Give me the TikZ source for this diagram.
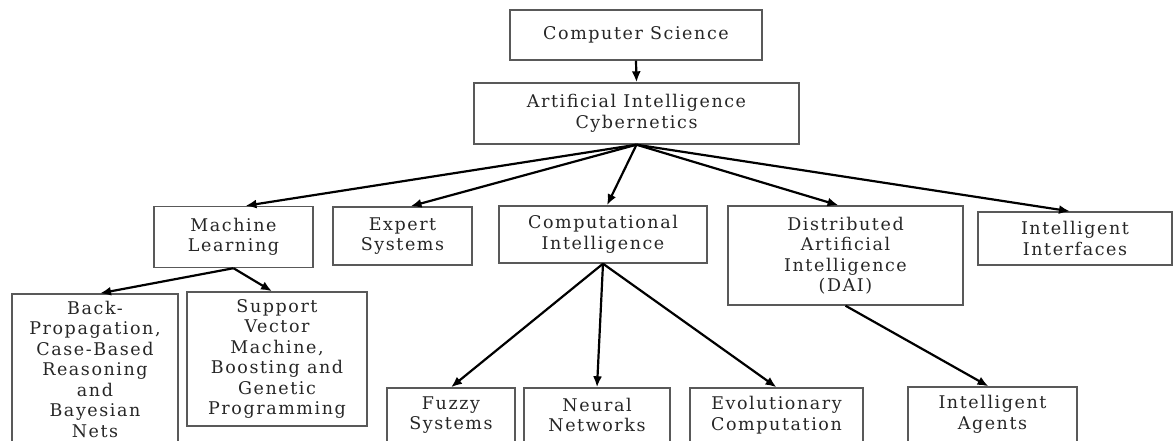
\documentclass[tikz,border=0pt]{standalone}
\usepackage{fontspec}
\setmainfont{DejaVu Serif}[LetterSpace=9]
\usetikzlibrary{arrows.meta}
\tikzset{
  box/.style={draw=black!65, line width=1.4pt, align=center, inner sep=0pt,
    font=\fontsize{17.5}{20.5}\selectfont, text=black!85},
  arr/.style={line width=2.2pt, -{Latex[length=11pt,width=9pt]}}
}
\begin{document}
\begin{tikzpicture}[x=1pt,y=-1pt]
\useasboundingbox (0,0) rectangle (1173,440);
\clip (0,0) rectangle (1173,440);
\node[box, minimum width=252pt, minimum height=50pt] (cs) at (636,35) {Computer Science};
\node[box, minimum width=325pt, minimum height=61pt] (ai) at (636.5,113.5) {Artificial Intelligence\\Cybernetics};
\node[box, minimum width=159pt, minimum height=61pt] (ml) at (233.5,237) {Machine\\Learning};
\node[box, minimum width=139pt, minimum height=58pt] (es) at (402.5,236) {Expert\\Systems};
\node[box, minimum width=208pt, minimum height=57pt] (ci) at (603,234.5) {Computational\\Intelligence};
\node[box, minimum width=235pt, minimum height=99pt] (dai) at (845.5,255.5) {Distributed\\Artificial\\Intelligence\\(DAI)};
\node[box, minimum width=194pt, minimum height=53pt] (ii) at (1075,238.5) {Intelligent\\Interfaces};
\node[box, minimum width=166pt, minimum height=150pt] (bp) at (95,369) {Back-\\Propagation,\\Case-Based\\Reasoning\\and\\Bayesian\\Nets};
\node[box, minimum width=180pt, minimum height=134pt] (svm) at (277,359) {Support\\Vector\\Machine,\\Boosting and\\Genetic\\Programming};
\node[box, minimum width=128pt, minimum height=54pt] (fs) at (451,415) {Fuzzy\\Systems};
\node[box, minimum width=146pt, minimum height=54pt] (nn) at (597,415) {Neural\\Networks};
\node[box, minimum width=173pt, minimum height=54pt] (ec) at (776.5,415) {Evolutionary\\Computation};
\node[box, minimum width=169pt, minimum height=55pt] (ia) at (992.5,414.5) {Intelligent\\Agents};
\draw[arr] (cs.south) -- (ai.north);
\draw[arr] (ai.south) -- ([xshift=12pt]ml.north);
\draw[arr] (ai.south) -- ([xshift=8pt]es.north);
\draw[arr] (ai.south) -- ([xshift=4pt]ci.north);
\draw[arr] (ai.south) -- ([xshift=-7pt]dai.north);
\draw[arr] (ai.south) -- ([xshift=-5pt]ii.north);
\draw[arr] (ml.south) -- ([xshift=5pt]bp.north);
\draw[arr] (ml.south) -- ([xshift=-5pt]svm.north);
\draw[arr] (ci.south) -- (fs.north);
\draw[arr] (ci.south) -- (nn.north);
\draw[arr] (ci.south) -- (ec.north);
\draw[arr] (dai.south) -- ([xshift=-4pt]ia.north);
\end{tikzpicture}
\end{document}
